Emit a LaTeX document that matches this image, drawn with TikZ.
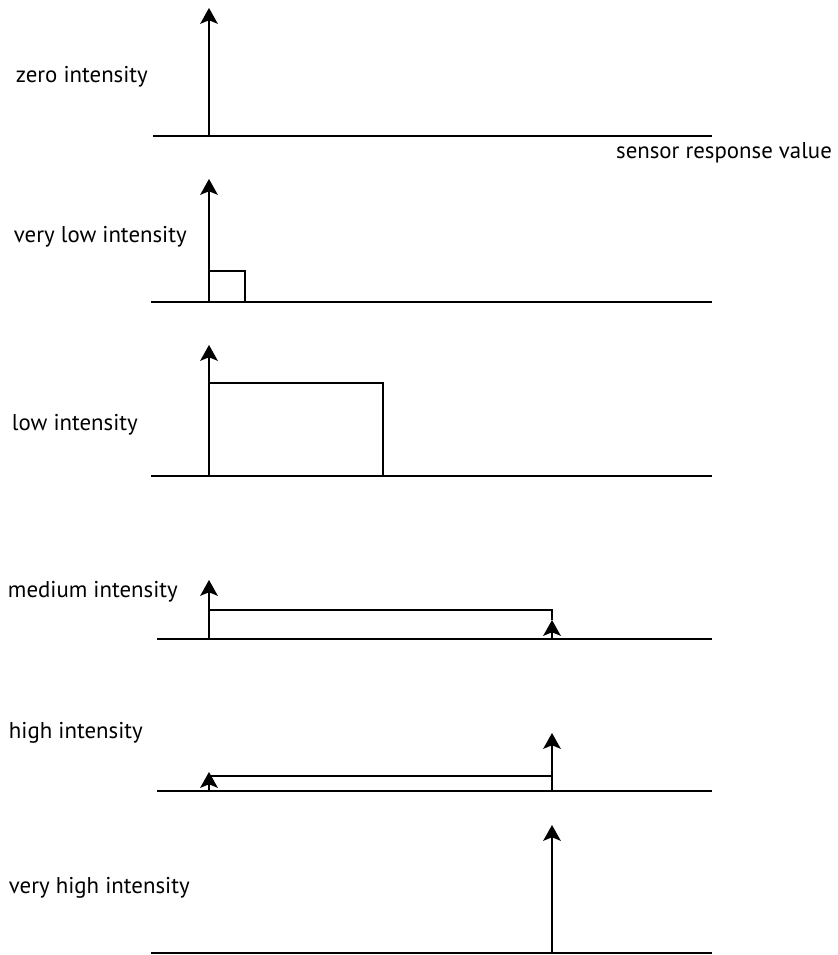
\documentclass[tikz,border=0pt]{standalone}
\usepackage{fontspec}
\setmainfont{PT Sans}
\usetikzlibrary{arrows.meta}

\begin{document}
\begin{tikzpicture}[x=0.02cm,y=0.02cm,line width=1.1pt,>={Stealth[length=9pt,width=10pt,inset=2pt]},
  every node/.style={font=\fontsize{13}{15}\selectfont,anchor=west,inner sep=0pt}]
 \useasboundingbox (0,0) rectangle (837,955);

 % zero intensity
 \draw (153,819) -- (712,819);
 \draw[->] (209,819) -- (209,947);
 \node (zero) at (15,878) {zero intensity};
 \node[anchor=center] (sensor) at (724,802) {sensor response value};

 % very low intensity
 \draw (151,653) -- (712,653);
 \draw[->] (209,653) -- (209,776);
 \draw (209,684) -- (245,684) -- (245,653);
 \node (vlow) at (13,718) {very low intensity};

 % low intensity
 \draw (151,479) -- (712,479);
 \draw[->] (209,479) -- (209,610);
 \draw (209,572) -- (383,572) -- (383,479);
 \node (low) at (11,530) {low intensity};

 % medium intensity
 \draw (157,316) -- (712,316);
 \draw[->] (209,316) -- (209,375);
 \draw (209,345) -- (552,345) -- (552,335);
 \draw[->] (552,316) -- (552,335);
 \node (medium) at (7,363) {medium intensity};

 % high intensity
 \draw (157,164) -- (712,164);
 \draw[->] (209,164) -- (209,183);
 \draw (209,179) -- (552,179);
 \draw[->] (552,164) -- (552,222);
 \node (high) at (8,222) {high intensity};

 % very high intensity
 \draw (151,2) -- (712,2);
 \draw[->] (552,2) -- (552,130);
 \node (vhigh) at (8,67) {very high intensity};
\end{tikzpicture}
\end{document}
